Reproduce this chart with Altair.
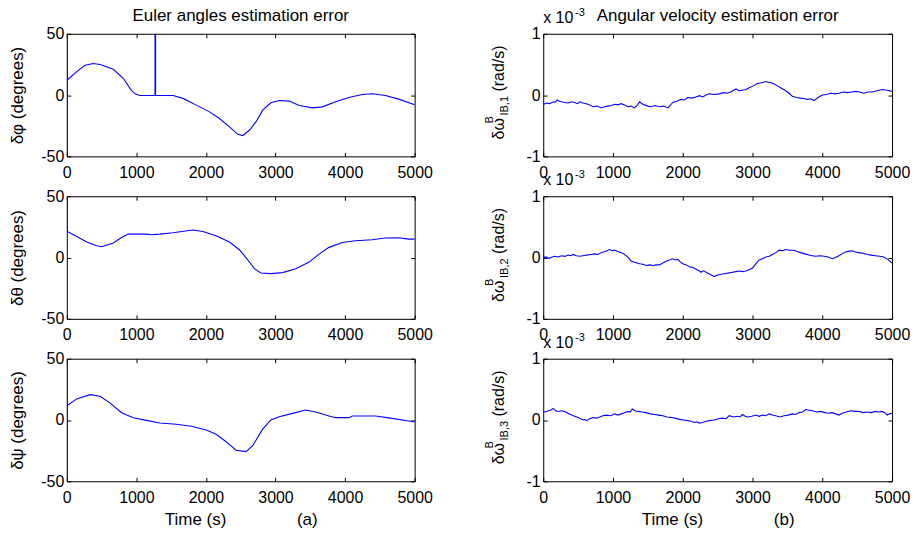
import altair as alt
import pandas as pd

# ---------------- data ----------------
t_phi = [6, 6, 6, 143, 262, 382, 477, 668, 811, 930, 990, 1050, 1268, 1268, 1276, 1276,
         1527, 1670, 1861, 2052, 2195, 2338, 2457, 2529, 2624, 2719, 2815, 2934, 3053,
         3197, 3340, 3531, 3674, 3865, 4055, 4246, 4389, 4580, 4771, 5000]
phi = [60, -60, 12.3, 19.1, 24.3, 25.7, 24.9, 21.0, 13.7, 3.6, 0.8, -0.4, -0.4, 60, 60, -0.4,
       -0.3, -2.7, -8.2, -13.7, -19.1, -26.0, -32.0, -33.0, -28.7, -21.9, -12.3, -6.3, -4.4,
       -4.9, -8.5, -10.4, -9.6, -5.5, -1.9, 0.5, 1.1, -0.3, -3.3, -7.9]

t_theta = [6, 6, 143, 286, 429, 501, 668, 787, 883, 1145, 1217, 1336, 1527, 1813, 1956,
           2147, 2338, 2481, 2600, 2696, 2791, 2934, 3101, 3292, 3483, 3626, 3769, 3960,
           4150, 4389, 4580, 4771, 4914, 5000]
theta = [60, 21.3, 17.2, 12.6, 9.6, 8.8, 11.8, 16.4, 19.1, 19.1, 18.6, 19.1, 20.2, 22.4, 21.3,
         17.8, 12.6, 6.4, -1.8, -9.1, -12.6, -13.1, -12.3, -9.1, -3.7, 2.8, 8.3, 12.3,
         13.7, 14.5, 15.9, 16.1, 15.0, 15.0]

t_psi = [6, 6, 6, 143, 334, 477, 620, 787, 954, 1145, 1336, 1574, 1789, 2004, 2147, 2290,
         2433, 2576, 2672, 2743, 2815, 2934, 3053, 3244, 3435, 3578, 3769, 3865, 4055,
         4103, 4437, 4676, 4914, 5000]
psi = [60, -60, 11.8, 17.2, 20.7, 19.4, 14.0, 5.9, 1.9, -0.3, -2.4, -3.5, -5.1, -8.1, -11.6,
       -17.7, -24.7, -25.8, -21.0, -14.2, -7.5, 0.0, 2.7, 5.4, 8.1, 6.5, 3.2, 1.9, 1.9,
       3.2, 3.2, 1.3, -0.8, -1.6]

# angular velocity errors, in units of 1e-3 rad/s
t_w1 = [0, 24, 48, 95, 143, 170, 200, 230, 262, 310, 357, 405, 452, 490, 524, 570, 619,
        665, 714, 770, 833, 880, 929, 975, 1024, 1070, 1119, 1165, 1214, 1260, 1310, 1345,
        1381, 1415, 1452, 1500, 1548, 1605, 1667, 1725, 1786, 1820, 1857, 1915, 1976, 2025,
        2071, 2130, 2190, 2240, 2286, 2335, 2381, 2450, 2524, 2585, 2643, 2700, 2762, 2810,
        2857, 2905, 2952, 3010, 3071, 3130, 3190, 3225, 3262, 3310, 3357, 3415, 3476, 3525,
        3571, 3630, 3690, 3740, 3786, 3835, 3881, 3940, 4000, 4060, 4119, 4180, 4238, 4300,
        4357, 4415, 4476, 4535, 4595, 4655, 4714, 4785, 4857, 4930, 5000]
w1 = [-0.16, -0.14, -0.13, -0.14, -0.11, -0.12, -0.08, -0.10, -0.11, -0.12, -0.13, -0.11,
      -0.12, -0.14, -0.11, -0.13, -0.14, -0.16, -0.19, -0.18, -0.21, -0.19, -0.18, -0.17,
      -0.15, -0.16, -0.14, -0.16, -0.19, -0.18, -0.21, -0.17, -0.11, -0.14, -0.16, -0.18,
      -0.19, -0.17, -0.19, -0.18, -0.21, -0.17, -0.12, -0.10, -0.07, -0.08, -0.04, -0.05,
      -0.03, -0.01, -0.03, 0.00, 0.02, 0.01, 0.02, 0.04, 0.03, 0.06, 0.10, 0.07, 0.08, 0.09,
      0.12, 0.15, 0.19, 0.20, 0.22, 0.21, 0.20, 0.18, 0.15, 0.11, 0.07, 0.03, -0.02, -0.04,
      -0.05, -0.06, -0.07, -0.06, -0.09, -0.04, 0.00, 0.01, 0.03, 0.02, 0.03, 0.05, 0.04,
      0.05, 0.06, 0.05, 0.03, 0.05, 0.05, 0.07, 0.09, 0.08, 0.06]

t_w2 = [0, 24, 48, 70, 95, 130, 167, 215, 262, 310, 357, 395, 429, 475, 524, 570, 619, 680,
        738, 785, 833, 890, 952, 990, 1024, 1070, 1119, 1155, 1190, 1225, 1262, 1320, 1381,
        1430, 1476, 1525, 1571, 1620, 1667, 1715, 1762, 1810, 1857, 1895, 1929, 1965, 2000,
        2050, 2095, 2140, 2190, 2225, 2262, 2285, 2310, 2345, 2381, 2415, 2452, 2490, 2524,
        2570, 2619, 2665, 2714, 2760, 2810, 2855, 2905, 2950, 3000, 3050, 3095, 3140, 3190,
        3240, 3286, 3335, 3381, 3430, 3476, 3535, 3595, 3640, 3690, 3750, 3810, 3855, 3905,
        3965, 4024, 4085, 4143, 4190, 4238, 4285, 4333, 4380, 4429, 4475, 4524, 4585, 4643,
        4700, 4762, 4820, 4881, 4940, 5000]
w2 = [0.03, 0.00, 0.01, -0.01, -0.01, 0.01, 0.02, 0.01, 0.03, 0.02, 0.04, 0.03, 0.05, 0.03,
      0.02, 0.03, 0.04, 0.05, 0.06, 0.05, 0.08, 0.10, 0.13, 0.11, 0.12, 0.10, 0.08, 0.06,
      0.03, -0.01, -0.06, -0.08, -0.10, -0.11, -0.13, -0.12, -0.13, -0.12, -0.12, -0.09,
      -0.06, -0.04, -0.02, -0.04, -0.03, -0.07, -0.10, -0.12, -0.15, -0.16, -0.19, -0.21,
      -0.24, -0.22, -0.22, -0.25, -0.27, -0.29, -0.31, -0.29, -0.28, -0.27, -0.26, -0.25,
      -0.24, -0.23, -0.22, -0.23, -0.22, -0.20, -0.17, -0.10, -0.04, -0.02, 0.01, 0.02,
      0.05, 0.08, 0.12, 0.11, 0.13, 0.12, 0.12, 0.10, 0.08, 0.06, 0.04, 0.03, 0.02, 0.03,
      0.02, 0.01, -0.02, 0.00, 0.03, 0.06, 0.09, 0.10, 0.11, 0.09, 0.08, 0.07, 0.05, 0.04,
      0.03, 0.02, 0.01, -0.03, -0.09]

t_w3 = [0, 35, 71, 105, 143, 180, 214, 260, 310, 355, 405, 450, 500, 535, 571, 595, 619,
        665, 714, 760, 810, 855, 905, 965, 1024, 1070, 1119, 1165, 1214, 1245, 1276, 1315,
        1357, 1415, 1476, 1535, 1595, 1655, 1714, 1775, 1833, 1890, 1952, 2010, 2071, 2120,
        2167, 2200, 2238, 2285, 2333, 2390, 2452, 2510, 2571, 2620, 2667, 2725, 2786, 2820,
        2857, 2895, 2929, 2990, 3048, 3095, 3143, 3190, 3238, 3285, 3333, 3390, 3452, 3510,
        3571, 3620, 3667, 3715, 3762, 3810, 3857, 3915, 3976, 4035, 4095, 4140, 4190, 4240,
        4286, 4345, 4405, 4465, 4524, 4585, 4643, 4700, 4762, 4810, 4857, 4895, 4929, 4965,
        5000]
w3 = [0.14, 0.13, 0.15, 0.16, 0.19, 0.15, 0.14, 0.15, 0.14, 0.11, 0.08, 0.06, 0.04, 0.02,
      0.00, 0.01, -0.01, 0.02, 0.04, 0.03, 0.05, 0.07, 0.08, 0.07, 0.10, 0.08, 0.10, 0.12,
      0.14, 0.13, 0.18, 0.15, 0.14, 0.13, 0.12, 0.10, 0.09, 0.08, 0.07, 0.05, 0.04, 0.03,
      0.01, 0.00, -0.01, -0.02, -0.04, -0.03, -0.05, -0.04, -0.02, -0.01, 0.00, 0.02, 0.03,
      0.02, 0.07, 0.05, 0.06, 0.05, 0.09, 0.06, 0.05, 0.06, 0.08, 0.06, 0.08, 0.07, 0.10,
      0.08, 0.07, 0.05, 0.07, 0.08, 0.10, 0.09, 0.12, 0.13, 0.17, 0.16, 0.15, 0.13, 0.14,
      0.12, 0.11, 0.12, 0.10, 0.08, 0.11, 0.13, 0.15, 0.14, 0.14, 0.12, 0.13, 0.12, 0.14,
      0.13, 0.14, 0.12, 0.08, 0.10, 0.11]

x_ticks = [0, 1000, 2000, 3000, 4000, 5000]
deg_ticks = [-50, 0, 50]
rate_ticks = [-1, 0, 1]

left_titles = ["δφ (degrees)", "δθ (degrees)", "δψ (degrees)"]
right_subscripts = ["IB,1", "IB,2", "IB,3"]
title_left = "Euler angles estimation error"
title_right = "Angular velocity estimation error"
xlabel_left = "Time (s)" + "\u00a0" * 15 + "(a)"
xlabel_right = "Time (s)" + "\u00a0" * 15 + "(b)"
exp_base = "x 10"
exp_power = "-3"

FONT = "Liberation Sans"
BLUE = "#0000ff"
W_L, W_R, H = 349, 350, 123


def text_layer(s, x, y, size=17, angle=0, align="left"):
    return alt.Chart(pd.DataFrame({"s": [s]})).mark_text(
        align=align, baseline="alphabetic", font=FONT, fontSize=size,
        color="black", angle=angle
    ).encode(text="s:N", x=alt.value(x), y=alt.value(y))


def panel(t, v, ydom, yvals, width, ytitle=None, xtitle=None, title=None, extra=()):
    df = pd.DataFrame({"t": t, "v": v, "i": list(range(len(t)))})
    xs = alt.Scale(domain=[0, 5000], nice=False, zero=False)
    ys = alt.Scale(domain=ydom, nice=False, zero=False)
    xaxis = alt.Axis(orient="bottom", values=x_ticks, offset=-4, tickSize=4,
                     labelExpr="toString(datum.value)",
                     labelPadding=8, domain=False, grid=False, title=xtitle,
                     labelFlush=False, labelOverlap=False, titlePadding=6)
    yaxis = alt.Axis(orient="left", values=yvals, offset=-4, tickSize=4,
                     labelExpr="toString(datum.value)",
                     labelPadding=3, domain=False, grid=False, title=ytitle,
                     labelFlush=False, labelOverlap=False, titlePadding=14)
    line = alt.Chart(df).mark_line(color=BLUE, strokeWidth=1.1, clip=True).encode(
        x=alt.X("t:Q", scale=xs, axis=xaxis),
        y=alt.Y("v:Q", scale=ys, axis=yaxis),
        order=alt.Order("i:Q"),
    )
    ticks = alt.Chart(df).mark_line(opacity=0, clip=True).encode(
        x=alt.X("t:Q", scale=xs, axis=alt.Axis(orient="top", values=x_ticks, offset=-4,
                                                tickSize=4, labels=False, domain=False,
                                                grid=False, title=None)),
        y=alt.Y("v:Q", scale=ys, axis=alt.Axis(orient="right", values=yvals, offset=-4,
                                                tickSize=4, labels=False, domain=False,
                                                grid=False, title=None)),
        order=alt.Order("i:Q"),
    )
    layers = [line, ticks] + list(extra)
    if title:
        layers.append(text_layer(title, width / 2, -13, align="center"))
    return alt.layer(*layers).resolve_axis(
        x="independent", y="independent").properties(width=width, height=H)


def rate_extras(sub):
    return [
        text_layer(exp_base, 0, -11, size=16),
        text_layer(exp_power, 32, -18, size=11),
        text_layer("δω", -39, 106, size=16, angle=270),
        text_layer("B", -50, 90, size=11, angle=270),
        text_layer(sub, -35, 82, size=11, angle=270),
        text_layer("(rad/s)", -39, 58, size=16, angle=270),
    ]


p1 = panel(t_phi, phi, [-50, 50], deg_ticks, W_L, ytitle=left_titles[0], title=title_left)
p2 = panel(t_theta, theta, [-50, 50], deg_ticks, W_L, ytitle=left_titles[1])
p3 = panel(t_psi, psi, [-50, 50], deg_ticks, W_L, ytitle=left_titles[2], xtitle=xlabel_left)

q1 = panel(t_w1, w1, [-1, 1], rate_ticks, W_R, title=title_right,
           extra=rate_extras(right_subscripts[0]))
q2 = panel(t_w2, w2, [-1, 1], rate_ticks, W_R, extra=rate_extras(right_subscripts[1]))
q3 = panel(t_w3, w3, [-1, 1], rate_ticks, W_R, xtitle=xlabel_right,
           extra=rate_extras(right_subscripts[2]))

chart = alt.concat(p1, q1, p2, q2, p3, q3, columns=2, bounds="flush",
                   spacing={"row": 40, "column": 129}).properties(
    padding={"left": 0, "top": -3, "right": 0, "bottom": 0}, background="white"
).configure_view(stroke="black", strokeWidth=1).configure_axis(
    labelFont=FONT, labelFontSize=16, labelColor="black", tickColor="black",
    tickWidth=1, titleFont=FONT, titleFontSize=17, titleFontWeight="normal",
    titleColor="black"
)

chart.save("out.html", embed_options={"renderer": "svg", "actions": False})
